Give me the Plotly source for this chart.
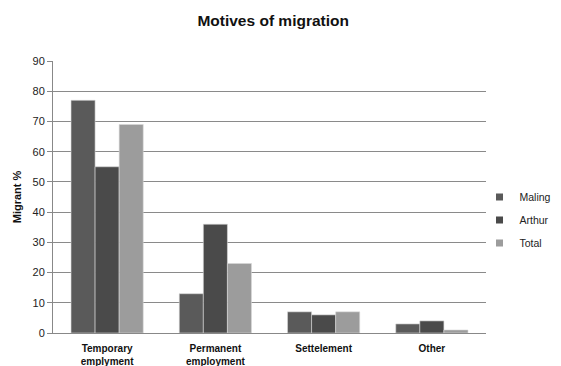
import plotly.graph_objects as go

categories = ["Temporary<br>emplyment", "Permanent<br>employment", "Settelement", "Other"]
maling = [77, 13, 7, 3]
arthur = [55, 36, 6, 4]
total = [69, 23, 7, 1]
y_ticks = [0, 10, 20, 30, 40, 50, 60, 70, 80, 90]

series = [
    ("Maling", maling, "#5a5a5a"),
    ("Arthur", arthur, "#4a4a4a"),
    ("Total", total, "#9c9c9c"),
]

fig = go.Figure()
for name, vals, color in series:
    fig.add_trace(go.Bar(
        name=name, x=categories, y=vals, showlegend=False,
        marker=dict(color=color, line=dict(color="#d8d8d8", width=0.6)),
    ))
# small square swatches for the legend
for name, vals, color in series:
    fig.add_trace(go.Scatter(
        name=name, x=[None], y=[None], mode="markers", legendgroup=name,
        marker=dict(symbol="square", size=7, color=color),
    ))

font_family = "Liberation Sans, Arial, sans-serif"

fig.update_layout(
    width=561, height=366,
    margin=dict(l=53, r=75, t=61, b=33, autoexpand=False),
    paper_bgcolor="white", plot_bgcolor="white",
    barmode="group", bargap=0.333, bargroupgap=0,
    title=dict(text="<b>Motives of migration</b>", x=0.487, xanchor="center",
               y=0.945, yanchor="middle",
               font=dict(family=font_family, size=15.5, color="#111")),
    font=dict(family=font_family, size=10, color="#222"),
    showlegend=True,
    legend=dict(x=0.985, xanchor="left", y=0.415, yanchor="middle",
                font=dict(size=10.5, color="#222"), itemwidth=30,
                tracegroupgap=4, bgcolor="rgba(0,0,0,0)"),
    xaxis=dict(showline=True, linecolor="#888", linewidth=1,
               ticks="", ticklabelstandoff=6,
               tickfont=dict(size=10, color="#111", family=font_family),
               tickprefix="<b>", ticksuffix="</b>"),
    yaxis=dict(range=[0, 90], tickvals=y_ticks, showgrid=True, gridcolor="#8a8a8a",
               gridwidth=1, showline=True, linecolor="#888", linewidth=1,
               ticks="outside", ticklen=5, tickcolor="#888",
               tickfont=dict(size=11, color="#222"), zeroline=False,
               title=dict(text="<b>Migrant %</b>", standoff=8,
                          font=dict(size=11, color="#111"))),
)

fig.write_html("out.html")
